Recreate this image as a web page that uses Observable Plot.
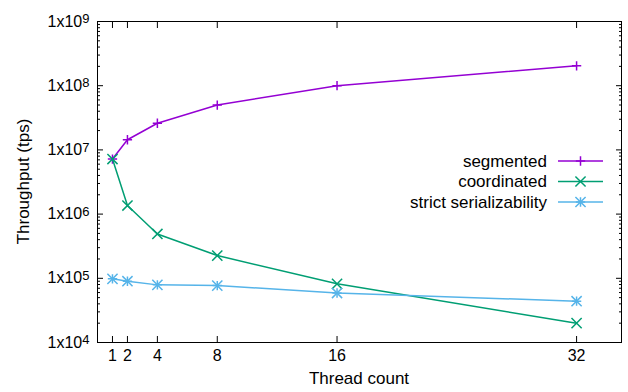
<!DOCTYPE html>
<html><head><meta charset="utf-8">
<script src="https://cdn.jsdelivr.net/npm/d3@7"></script>
<script src="https://cdn.jsdelivr.net/npm/@observablehq/plot@0.6"></script>
<style>body{margin:0;background:#fff}</style>
</head><body><div id="chart"></div>
<script>
const threads = [1, 2, 4, 8, 16, 32];
const segmented = [7.2e6, 1.44e7, 2.6e7, 5.0e7, 1.0e8, 2.04e8];
const coordinated = [7.2e6, 1.36e6, 4.9e5, 2.26e5, 8.2e4, 2.0e4];
const strict = [9.8e4, 9.0e4, 7.9e4, 7.7e4, 5.9e4, 4.4e4];
const seriesNames = ["segmented", "coordinated", "strict serializability"];
const seriesColors = ["#9400d3", "#009e73", "#56b4e9"];
const yTicks = [1e4, 1e5, 1e6, 1e7, 1e8, 1e9];
const xLabel = "Thread count";
const yLabel = "Throughput (tps)";

const minorTicks = [];
for (let e = 4; e < 9; e++) for (let m = 2; m <= 9; m++) minorTicks.push(m * Math.pow(10, e));

const rows = [];
[segmented, coordinated, strict].forEach((vals, si) => {
  vals.forEach((v, i) => rows.push({series: seriesNames[si], x: threads[i], y: v}));
});
const bySeries = name => rows.filter(d => d.series === name);

const W = 628, H = 392;
const font = "'Liberation Sans', Arial, sans-serif";
const symR = {plus: 3.1, times: 4.7};
const sw = 1.5;

const marks = [
  Plot.axisY(yTicks, {anchor: "left", tickSize: -6, tickPadding: 14, fontSize: 16,
    tickFormat: d => "1x10|" + Math.round(Math.log10(d))}),
  Plot.axisY(yTicks, {anchor: "right", tickSize: -6, tickFormat: () => ""}),
  Plot.axisY(minorTicks, {anchor: "left", tickSize: -3, tickFormat: () => ""}),
  Plot.axisY(minorTicks, {anchor: "right", tickSize: -3, tickFormat: () => ""}),
  Plot.axisX(threads, {anchor: "bottom", tickSize: -6, tickPadding: 13, fontSize: 16}),
  Plot.axisX(threads, {anchor: "top", tickSize: -6, tickFormat: () => ""}),
  Plot.frame({stroke: "#000", strokeWidth: 1})
];
const symbols = [["plus"], ["times"], ["plus", "times"]];
seriesNames.forEach((name, si) => {
  marks.push(Plot.line(bySeries(name), {x: "x", y: "y", stroke: seriesColors[si], strokeWidth: sw}));
  symbols[si].forEach(sym => marks.push(Plot.dot(bySeries(name), {x: "x", y: "y", symbol: sym, r: symR[sym], stroke: seriesColors[si], strokeWidth: sw, fill: "none"})));
});

const plot = Plot.plot({
  width: W, height: H,
  marginLeft: 97, marginRight: 7, marginTop: 21, marginBottom: 50,
  style: {fontFamily: font, fontSize: "16px", color: "#000", background: "#fff"},
  x: {domain: [0, 35], label: null},
  y: {type: "log", domain: [1e4, 1e9], label: null},
  marks
});
document.getElementById("chart").appendChild(plot);

const svg = d3.select(plot);
svg.selectAll('g[aria-label="y-axis tick label"] text').each(function() {
  const t = d3.select(this);
  const s = t.text();
  if (!s.includes("|")) return;
  const [base, exp] = s.split("|");
  t.text("");
  t.append("tspan").text(base);
  t.append("tspan").attr("dy", "-3.5px").attr("font-size", "13px").text(exp);
});
svg.append("text").attr("x", (97 + W - 7) / 2).attr("y", 378).attr("dy", "0.35em")
  .attr("text-anchor", "middle").attr("font-family", font).attr("font-size", 17).text(xLabel);
svg.append("text").attr("transform", `translate(23,${(21 + H - 50) / 2}) rotate(-90)`).attr("dy", "0.35em")
  .attr("text-anchor", "middle").attr("font-family", font).attr("font-size", 17).text(yLabel);
const lg = svg.append("g");
const symMap = {plus: d3.symbolPlus, times: d3.symbolTimes};
seriesNames.forEach((name, si) => {
  const y = 161 + si * 20.5;
  lg.append("text").attr("x", 547).attr("y", y).attr("dy", "0.35em").attr("text-anchor", "end")
    .attr("font-family", font).attr("font-size", 17).text(name);
  lg.append("line").attr("x1", 558).attr("x2", 603).attr("y1", y).attr("y2", y)
    .attr("stroke", seriesColors[si]).attr("stroke-width", sw);
  symbols[si].forEach(sym => lg.append("path")
    .attr("transform", `translate(580.5,${y})`)
    .attr("d", d3.symbol(symMap[sym], Math.PI * symR[sym] * symR[sym])())
    .attr("fill", "none").attr("stroke", seriesColors[si]).attr("stroke-width", sw));
});
</script>
</body></html>
